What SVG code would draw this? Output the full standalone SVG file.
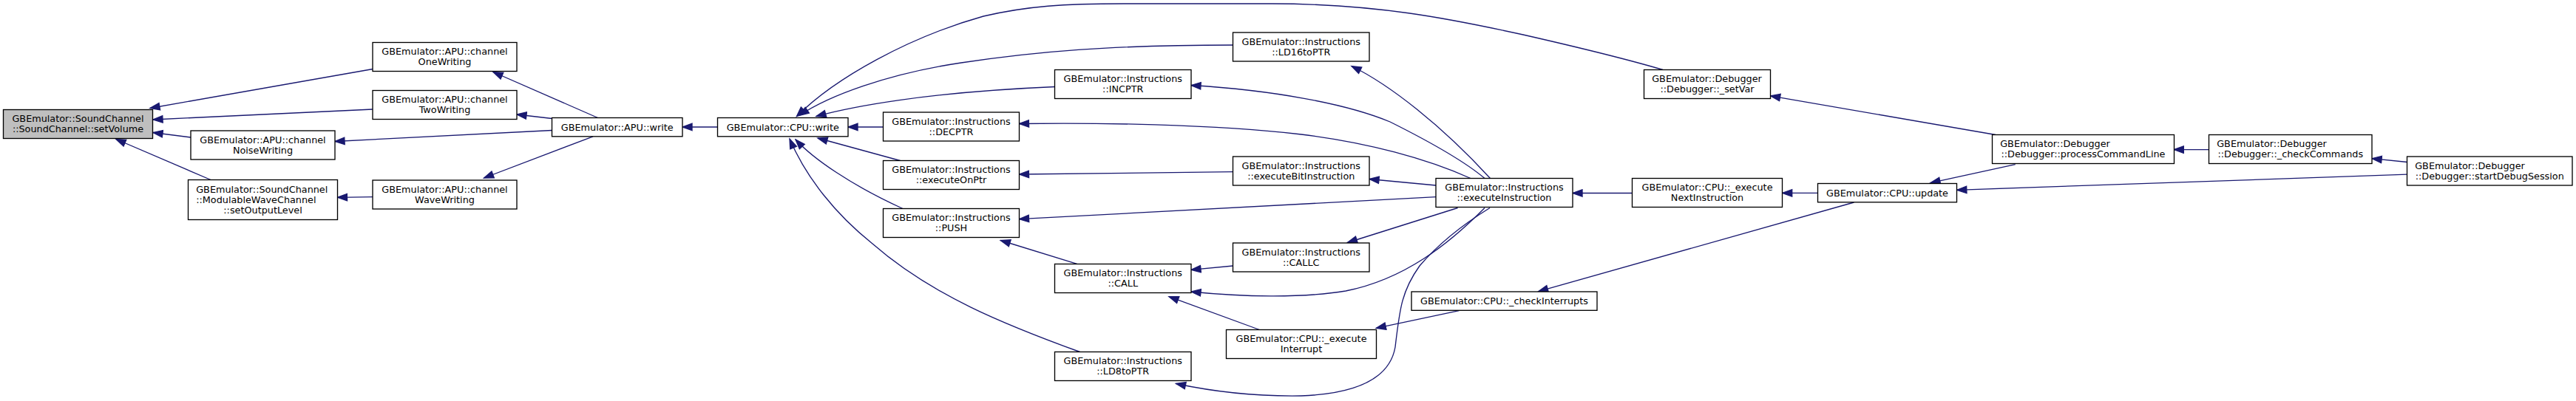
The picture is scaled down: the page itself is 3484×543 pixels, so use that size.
<svg xmlns="http://www.w3.org/2000/svg" width="3484" height="543" viewBox="0 0 3484 543">
<style>
.n rect{fill:#ffffff;stroke:#000000;stroke-width:1.33}
.n.hl rect{fill:#bfbfbf}
.n text{font-family:"DejaVu Sans","Liberation Sans",sans-serif;font-size:12.8px;fill:#000000}
.c{text-anchor:middle}
.e path{fill:none;stroke:#191970;stroke-width:1.33;marker-start:url(#ah)}
</style>
<defs>
<marker id="ah" markerUnits="userSpaceOnUse" viewBox="-1 -6 16 12" refX="13" refY="0" markerWidth="16" markerHeight="12" orient="auto-start-reverse">
<path d="M0,-4.7 L13,0 L0,4.7 z" fill="#191970" stroke="#191970" stroke-width="1.33"/>
</marker>
</defs>
<rect width="3484" height="543" fill="#ffffff"/>
<g id="edges" class="e">
<path d="M203,146.5 L504,93.5"/>
<path d="M207,162 L504,148"/>
<path d="M207,179.5 L258,186"/>
<path d="M157,188.5 L285,243.5"/>
<path d="M667,97.5 L808.5,159.5"/>
<path d="M699,155 L746.5,160.5"/>
<path d="M453,191.5 L746.5,176.5"/>
<path d="M654.5,241 L802,184.8"/>
<path d="M456.5,267.3 L504,266.6"/>
<path d="M923,172 L970.5,172"/>
<path d="M1077.5,157.5 C1130,105 1230,50 1330,22 C1390,8 1440,5 1520,5 L1720,5 C1860,5 1960,25 2060,47 C2130,63 2200,80 2249,94.5"/>
<path d="M1081,156.5 C1120,130 1200,100 1300,85 C1400,70 1500,61 1667.5,61"/>
<path d="M1104,157.5 C1150,145 1250,125 1426.5,117.5"/>
<path d="M1147,172 L1194.5,172"/>
<path d="M1106,187 L1217.5,217.5"/>
<path d="M1076,189 C1100,215 1150,250 1221,282.5"/>
<path d="M1068,188 C1090,240 1130,290 1180,330 C1260,400 1360,440 1460.5,476.5"/>
<path d="M1828,89.5 C1880,115 1950,170 2015.5,241.5"/>
<path d="M1611,115.5 C1720,122 1820,140 1880,165 C1940,195 1985,222 2008,241.5"/>
<path d="M1378.5,167.5 C1480,166 1640,168 1760,182 C1850,193 1930,215 1989,241.5"/>
<path d="M1852,242.5 L1942,251"/>
<path d="M1378.5,296.7 L1942,266.6"/>
<path d="M1822.5,328.5 L1971.5,281.5"/>
<path d="M1611,395 C1680,402 1760,404 1820,394 C1900,378 1960,330 2008,281.5"/>
<path d="M1590.5,519.5 C1640,530 1700,537 1760,536 C1840,533 1880,510 1887,470 C1893,420 1895,395 1920,360 C1950,325 1985,300 2015,281.5"/>
<path d="M1378.5,236 L1667.5,232.7"/>
<path d="M1611,365.3 L1667.5,360"/>
<path d="M1353.3,325.5 L1456.6,357.3"/>
<path d="M1581,401.7 L1703.4,446.5"/>
<path d="M2127,261.5 L2207.5,261.5"/>
<path d="M1861.3,444.3 L1973.4,420.7"/>
<path d="M2410.7,261.4 L2458.5,261.4"/>
<path d="M2080.6,394.7 L2507.5,274"/>
<path d="M2394.6,129.8 L2699,182.5"/>
<path d="M2611,247.6 L2725.7,222.6"/>
<path d="M2646.8,257.3 L3255.6,236.2"/>
<path d="M2940.3,202.6 L2987.3,202.6"/>
<path d="M3208.1,214.7 L3255.6,219.5"/>
</g>
<g id="setVolume" class="n hl"><rect x="4.5" y="148.5" width="202" height="39"/><text x="105.5" y="165" class="c">GBEmulator::SoundChannel</text><text x="105.5" y="179" class="c">::SoundChannel::setVolume</text></g>
<g id="oneWriting" class="n"><rect x="504" y="57.5" width="195" height="39"/><text x="601.5" y="74" class="c">GBEmulator::APU::channel</text><text x="601.5" y="88" class="c">OneWriting</text></g>
<g id="twoWriting" class="n"><rect x="504" y="122.5" width="195" height="39"/><text x="601.5" y="139" class="c">GBEmulator::APU::channel</text><text x="601.5" y="153" class="c">TwoWriting</text></g>
<g id="noiseWriting" class="n"><rect x="258" y="177" width="195" height="39"/><text x="355.5" y="193.5" class="c">GBEmulator::APU::channel</text><text x="355.5" y="207.5" class="c">NoiseWriting</text></g>
<g id="setOutputLevel" class="n"><rect x="254.5" y="243.5" width="202" height="54"/><text x="265.2" y="261.2">GBEmulator::SoundChannel</text><text x="265.2" y="275.2">::ModulableWaveChannel</text><text x="355.5" y="289.2" class="c">::setOutputLevel</text></g>
<g id="waveWriting" class="n"><rect x="504" y="244" width="195" height="39"/><text x="601.5" y="260.5" class="c">GBEmulator::APU::channel</text><text x="601.5" y="274.5" class="c">WaveWriting</text></g>
<g id="apuWrite" class="n"><rect x="746.5" y="159.5" width="176.5" height="25.3"/><text x="834.75" y="176.7" class="c">GBEmulator::APU::write</text></g>
<g id="cpuWrite" class="n"><rect x="970.5" y="159.5" width="176.5" height="25.3"/><text x="1058.75" y="176.7" class="c">GBEmulator::CPU::write</text></g>
<g id="ld16toPtr" class="n"><rect x="1667.5" y="44" width="184.5" height="39"/><text x="1759.75" y="60.5" class="c">GBEmulator::Instructions</text><text x="1759.75" y="74.5" class="c">::LD16toPTR</text></g>
<g id="incPtr" class="n"><rect x="1426.5" y="94.5" width="184.5" height="39"/><text x="1518.75" y="111" class="c">GBEmulator::Instructions</text><text x="1518.75" y="125" class="c">::INCPTR</text></g>
<g id="decPtr" class="n"><rect x="1194.5" y="152" width="184" height="39"/><text x="1286.5" y="168.5" class="c">GBEmulator::Instructions</text><text x="1286.5" y="182.5" class="c">::DECPTR</text></g>
<g id="executeOnPtr" class="n"><rect x="1194.5" y="217.5" width="184" height="39"/><text x="1286.5" y="234" class="c">GBEmulator::Instructions</text><text x="1286.5" y="248" class="c">::executeOnPtr</text></g>
<g id="executeBitInstruction" class="n"><rect x="1667.5" y="212" width="184.5" height="39"/><text x="1759.75" y="228.5" class="c">GBEmulator::Instructions</text><text x="1759.75" y="242.5" class="c">::executeBitInstruction</text></g>
<g id="push" class="n"><rect x="1194.5" y="282.5" width="184" height="39"/><text x="1286.5" y="299" class="c">GBEmulator::Instructions</text><text x="1286.5" y="313" class="c">::PUSH</text></g>
<g id="callc" class="n"><rect x="1667.5" y="329" width="184.5" height="39"/><text x="1759.75" y="345.5" class="c">GBEmulator::Instructions</text><text x="1759.75" y="359.5" class="c">::CALLC</text></g>
<g id="call" class="n"><rect x="1426.5" y="357.5" width="184.5" height="39"/><text x="1518.75" y="374" class="c">GBEmulator::Instructions</text><text x="1518.75" y="388" class="c">::CALL</text></g>
<g id="executeInterrupt" class="n"><rect x="1658.5" y="446.5" width="203" height="39"/><text x="1760" y="463" class="c">GBEmulator::CPU::_execute</text><text x="1760" y="477" class="c">Interrupt</text></g>
<g id="ld8toPtr" class="n"><rect x="1426.5" y="476.5" width="184.5" height="39"/><text x="1518.75" y="493" class="c">GBEmulator::Instructions</text><text x="1518.75" y="507" class="c">::LD8toPTR</text></g>
<g id="setVar" class="n"><rect x="2223.5" y="94.5" width="171" height="39"/><text x="2234.2" y="111">GBEmulator::Debugger</text><text x="2309" y="125" class="c">::Debugger::_setVar</text></g>
<g id="executeInstruction" class="n"><rect x="1942" y="241.5" width="185" height="39"/><text x="2034.5" y="258" class="c">GBEmulator::Instructions</text><text x="2034.5" y="272" class="c">::executeInstruction</text></g>
<g id="executeNextInstruction" class="n"><rect x="2207.5" y="241.5" width="203" height="39"/><text x="2309" y="258" class="c">GBEmulator::CPU::_execute</text><text x="2309" y="272" class="c">NextInstruction</text></g>
<g id="checkInterrupts" class="n"><rect x="1909" y="395" width="251" height="25.3"/><text x="2034.5" y="412.2" class="c">GBEmulator::CPU::_checkInterrupts</text></g>
<g id="update" class="n"><rect x="2458.5" y="248.5" width="188" height="25.3"/><text x="2552.5" y="265.7" class="c">GBEmulator::CPU::update</text></g>
<g id="processCommandLine" class="n"><rect x="2694.5" y="182.5" width="246" height="39"/><text x="2705.2" y="199">GBEmulator::Debugger</text><text x="2817.5" y="213" class="c">::Debugger::processCommandLine</text></g>
<g id="checkCommands" class="n"><rect x="2987.5" y="182.5" width="220.5" height="39"/><text x="2998.2" y="199">GBEmulator::Debugger</text><text x="3097.75" y="213" class="c">::Debugger::_checkCommands</text></g>
<g id="startDebugSession" class="n"><rect x="3255.5" y="212" width="223.5" height="39"/><text x="3266.2" y="228.5">GBEmulator::Debugger</text><text x="3367.25" y="242.5" class="c">::Debugger::startDebugSession</text></g>
</svg>
